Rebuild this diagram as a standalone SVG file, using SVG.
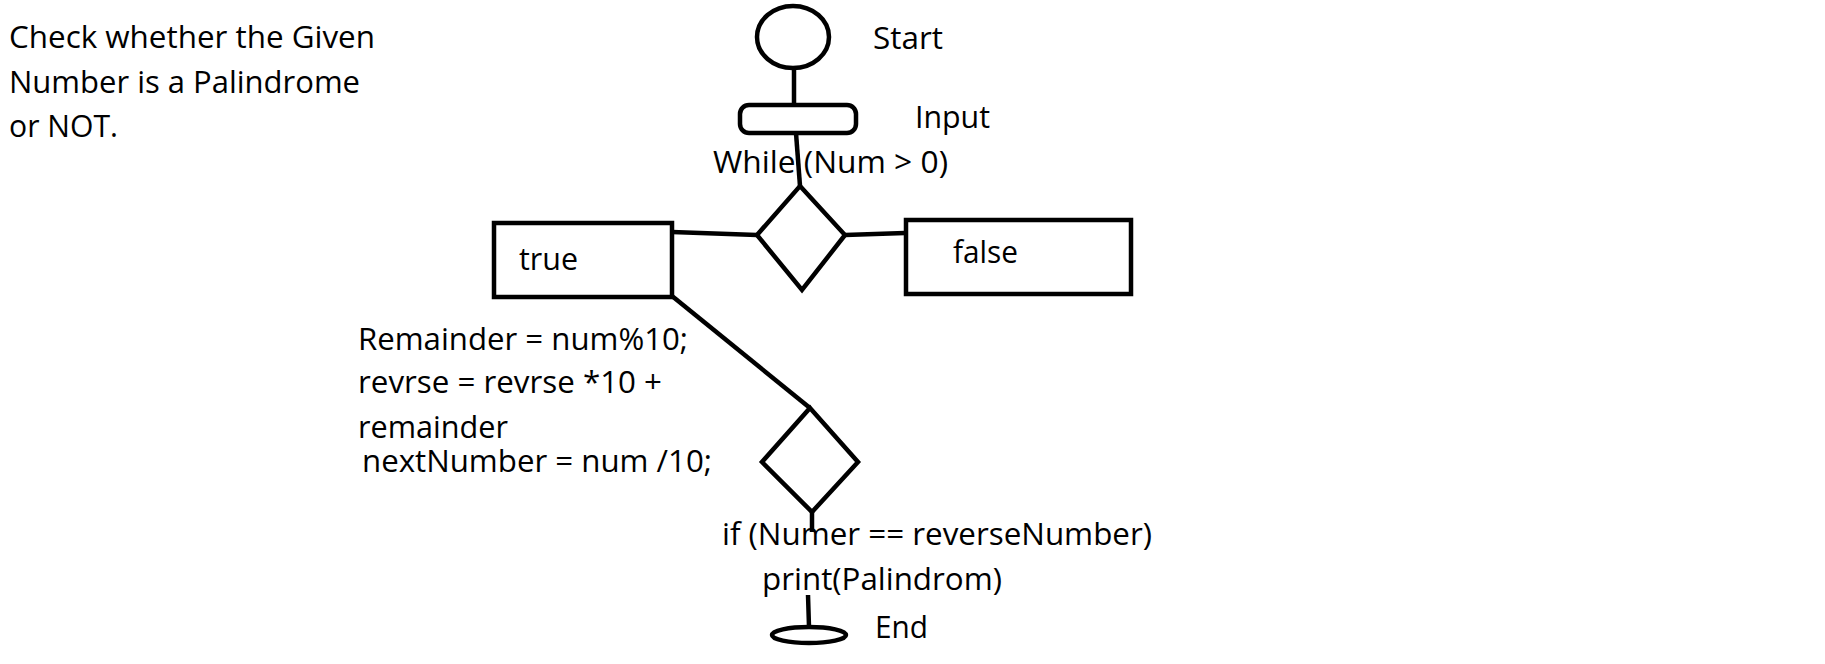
<svg xmlns="http://www.w3.org/2000/svg" width="1825" height="664" viewBox="0 0 1825 664">
<style>
.s{fill:none;stroke:#000;stroke-width:4.5;stroke-linejoin:miter}
.t{font-family:"Open Sans","Noto Sans","Liberation Sans",sans-serif;font-size:30.5px;fill:#000}
</style>
<rect x="0" y="0" width="1825" height="664" fill="#fff"/>
<g id="title">
<text class="t" x="9" y="48" textLength="366" lengthAdjust="spacingAndGlyphs">Check whether the Given</text>
<text class="t" x="9" y="93" textLength="351" lengthAdjust="spacingAndGlyphs">Number is a Palindrome</text>
<text class="t" x="9" y="137" textLength="109" lengthAdjust="spacingAndGlyphs">or NOT.</text>
</g>
<g id="connectors">
<line class="s" x1="794" y1="69" x2="794" y2="105"/>
<line class="s" x1="796" y1="133" x2="800" y2="186"/>
<line class="s" x1="672" y1="232" x2="757" y2="235"/>
<line class="s" x1="845" y1="235" x2="905" y2="233"/>
<line class="s" x1="672" y1="296" x2="810" y2="408"/>
<line class="s" x1="812" y1="512" x2="812" y2="532"/>
<line class="s" x1="808" y1="595" x2="809" y2="627"/>
</g>
<g id="start">
<ellipse class="s" cx="793" cy="37" rx="36" ry="31"/>
<text class="t" x="873" y="49" textLength="70" lengthAdjust="spacingAndGlyphs">Start</text>
</g>
<g id="input">
<rect class="s" x="740" y="105" width="116" height="28" rx="9"/>
<text class="t" x="915" y="128" textLength="75" lengthAdjust="spacingAndGlyphs">Input</text>
</g>
<g id="while">
<polygon class="s" points="800,186 845,235 802,290 757,235"/>
<text class="t" x="713" y="173" textLength="235" lengthAdjust="spacingAndGlyphs">While (Num &gt; 0)</text>
</g>
<g id="true">
<rect class="s" x="494" y="223" width="178" height="74"/>
<text class="t" x="519" y="270" textLength="59" lengthAdjust="spacingAndGlyphs">true</text>
</g>
<g id="false">
<rect class="s" x="906" y="220" width="225" height="74"/>
<text class="t" x="953" y="263" textLength="65" lengthAdjust="spacingAndGlyphs">false</text>
</g>
<g id="body">
<text class="t" x="358" y="350" textLength="330" lengthAdjust="spacingAndGlyphs">Remainder = num%10;</text>
<text class="t" x="358" y="393" textLength="304" lengthAdjust="spacingAndGlyphs">revrse = revrse *10 +</text>
<text class="t" x="358" y="438" textLength="150" lengthAdjust="spacingAndGlyphs">remainder</text>
<text class="t" x="362" y="472" textLength="350" lengthAdjust="spacingAndGlyphs">nextNumber = num /10;</text>
</g>
<g id="check">
<polygon class="s" points="810,408 858,462 812,512 762,462"/>
<text class="t" x="722" y="545" textLength="430" lengthAdjust="spacingAndGlyphs">if (Numer == reverseNumber)</text>
<text class="t" x="762" y="590" textLength="240" lengthAdjust="spacingAndGlyphs">print(Palindrom)</text>
</g>
<g id="end">
<ellipse class="s" cx="809" cy="635" rx="37" ry="8"/>
<text class="t" x="875" y="638" textLength="53" lengthAdjust="spacingAndGlyphs">End</text>
</g>
</svg>
